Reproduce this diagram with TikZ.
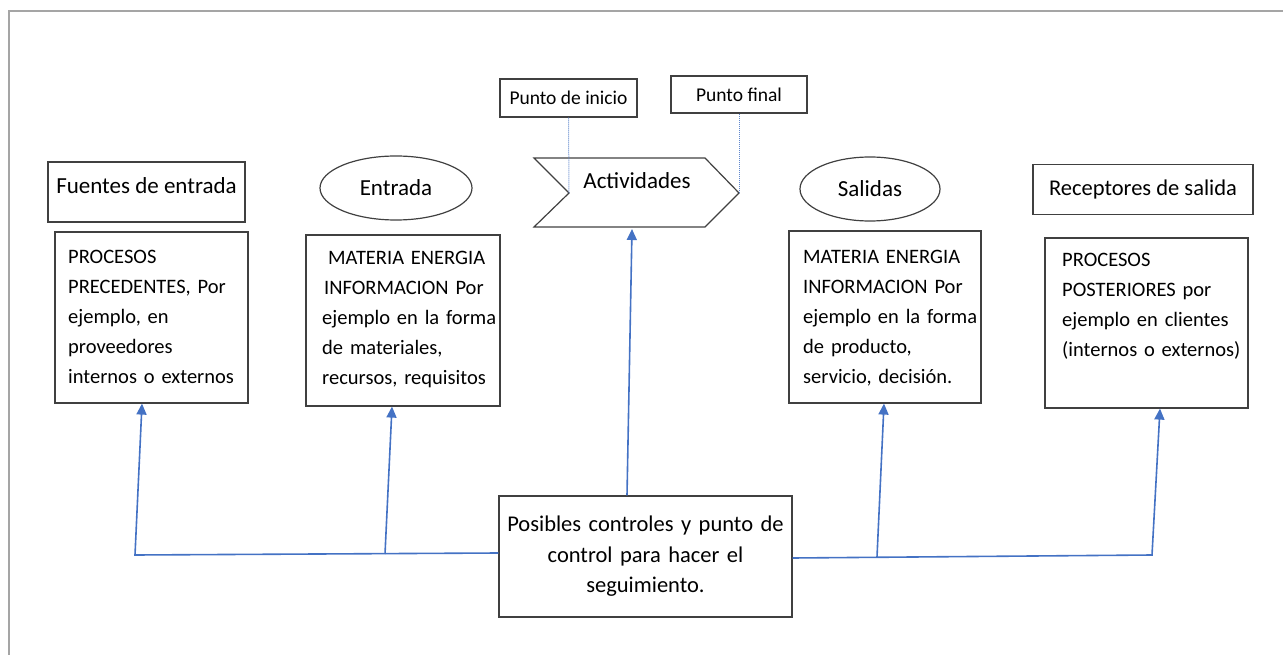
\documentclass[tikz,border=0pt]{standalone}
\usepackage{fontspec}
\setmainfont{Carlito}
\usetikzlibrary{arrows.meta}
\usetikzlibrary{shapes.geometric}
\definecolor{flowblue}{RGB}{68,114,196}
\definecolor{boxgray}{RGB}{64,64,64}
\definecolor{framegray}{RGB}{165,165,165}

\begin{document}
\begin{tikzpicture}[x=1pt, y=-1pt,
  infobox/.style={draw=boxgray, line width=1.2pt},
  infotext/.style={anchor=north west, inner sep=0pt, text width=200pt, align=left, font=\fontsize{20.5}{30}\selectfont},
  headbox/.style={draw=boxgray, line width=1.2pt, font=\fontsize{23}{27}\selectfont},
  headoval/.style={ellipse, draw=boxgray, line width=1.2pt, font=\fontsize{23}{27}\selectfont},
  tagbox/.style={draw=boxgray, line width=1.2pt, font=\fontsize{19.5}{23}\selectfont},
  tagline/.style={draw=flowblue!85, line width=1pt, densely dotted},
  flow/.style={draw=flowblue, line width=1.6pt, -{Triangle[length=11pt, width=10pt]}},
]
  \useasboundingbox (0,0) rectangle (1283,655);
  \draw[framegray, line width=2pt] (9,655) -- (9,11) -- (1283,11);

  % top row
  \node[headbox, minimum width=197, minimum height=60, text depth=12pt] (fuentes) at (146.5,192) {Fuentes de entrada};
  \node[headoval, minimum width=152, minimum height=64] (entrada) at (396,188) {Entrada};
  \node[headoval, minimum width=140, minimum height=64] (salidas) at (870,189) {Salidas};
  \node[headbox, minimum width=220, minimum height=50, font=\fontsize{22.5}{27}\selectfont] (receptores) at (1143,189.5) {Receptores de salida};

  % activity arrow
  \coordinate (notch) at (569,193);
  \coordinate (tip) at (739,193);
  \coordinate (actbot) at (632,229);
  \draw[boxgray, line width=1.2pt] (534,158) -- (705,158) -- (tip) -- (705,227) -- (534,227) -- (notch) -- cycle;
  \node[font=\fontsize{23}{27}\selectfont] (act) at (637,181) {Actividades};
  \node[tagbox, minimum width=137, minimum height=38] (inicio) at (568.5,98) {Punto de inicio};
  \node[tagbox, minimum width=136, minimum height=37] (final) at (739,94.5) {Punto final};
  \draw[tagline] (inicio.south) -- (notch);
  \draw[tagline] (final.south) -- (tip);

  % info boxes
  \node[infobox, minimum width=193, minimum height=171] (b1) at (151.5,317.5) {};
  \node[infotext] (b1txt) at (68,249.5)
    {PROCESOS\\PRECEDENTES, Por\\ejemplo, en\\proveedores\\internos o externos};
  \node[infobox, minimum width=194, minimum height=171] (b2) at (403,320.5) {};
  \node[infotext] (b2txt) at (322,251)
    {\hspace*{6pt}MATERIA ENERGIA\\\hspace*{2pt}INFORMACION Por\\ejemplo en la forma\\de materiales,\\recursos, requisitos};
  \node[infobox, minimum width=192, minimum height=172] (b4) at (885,317) {};
  \node[infotext] (b4txt) at (803,250)
    {MATERIA ENERGIA\\INFORMACION Por\\ejemplo en la forma\\de producto,\\servicio, decisión.};
  \node[infobox, minimum width=203, minimum height=170] (b5) at (1146.5,323) {};
  \node[infotext] (b5txt) at (1062,253)
    {PROCESOS\\POSTERIORES por\\ejemplo en clientes\\(internos o externos)};

  % control box
  \node[draw=boxgray, line width=1.2pt, font=\fontsize{22.5}{30.5}\selectfont, minimum width=293, minimum height=121,
    text width=286, align=center] (ctrl) at (645.5,556.5)
    {Posibles controles y punto de\\control para hacer el\\seguimiento.};

  % connectors
  \coordinate (jl) at (135,555);
  \coordinate (bl) at (385,554);
  \coordinate (jr) at (1152,555);
  \coordinate (br) at (877,557);
  \draw[flow] ([yshift=3.5pt]ctrl.west) -- (jl) -- ([xshift=-9.5pt]b1.south);
  \draw[flow] (bl) -- ([xshift=-11pt]b2.south);
  \draw[flow] ([yshift=-1.5pt]ctrl.east) -- (jr) -- ([xshift=13.5pt]b5.south);
  \draw[flow] (br) -- ([xshift=-1pt]b4.south);
  \draw[flow] ([xshift=-18.5pt]ctrl.north) -- (actbot);
\end{tikzpicture}
\end{document}
